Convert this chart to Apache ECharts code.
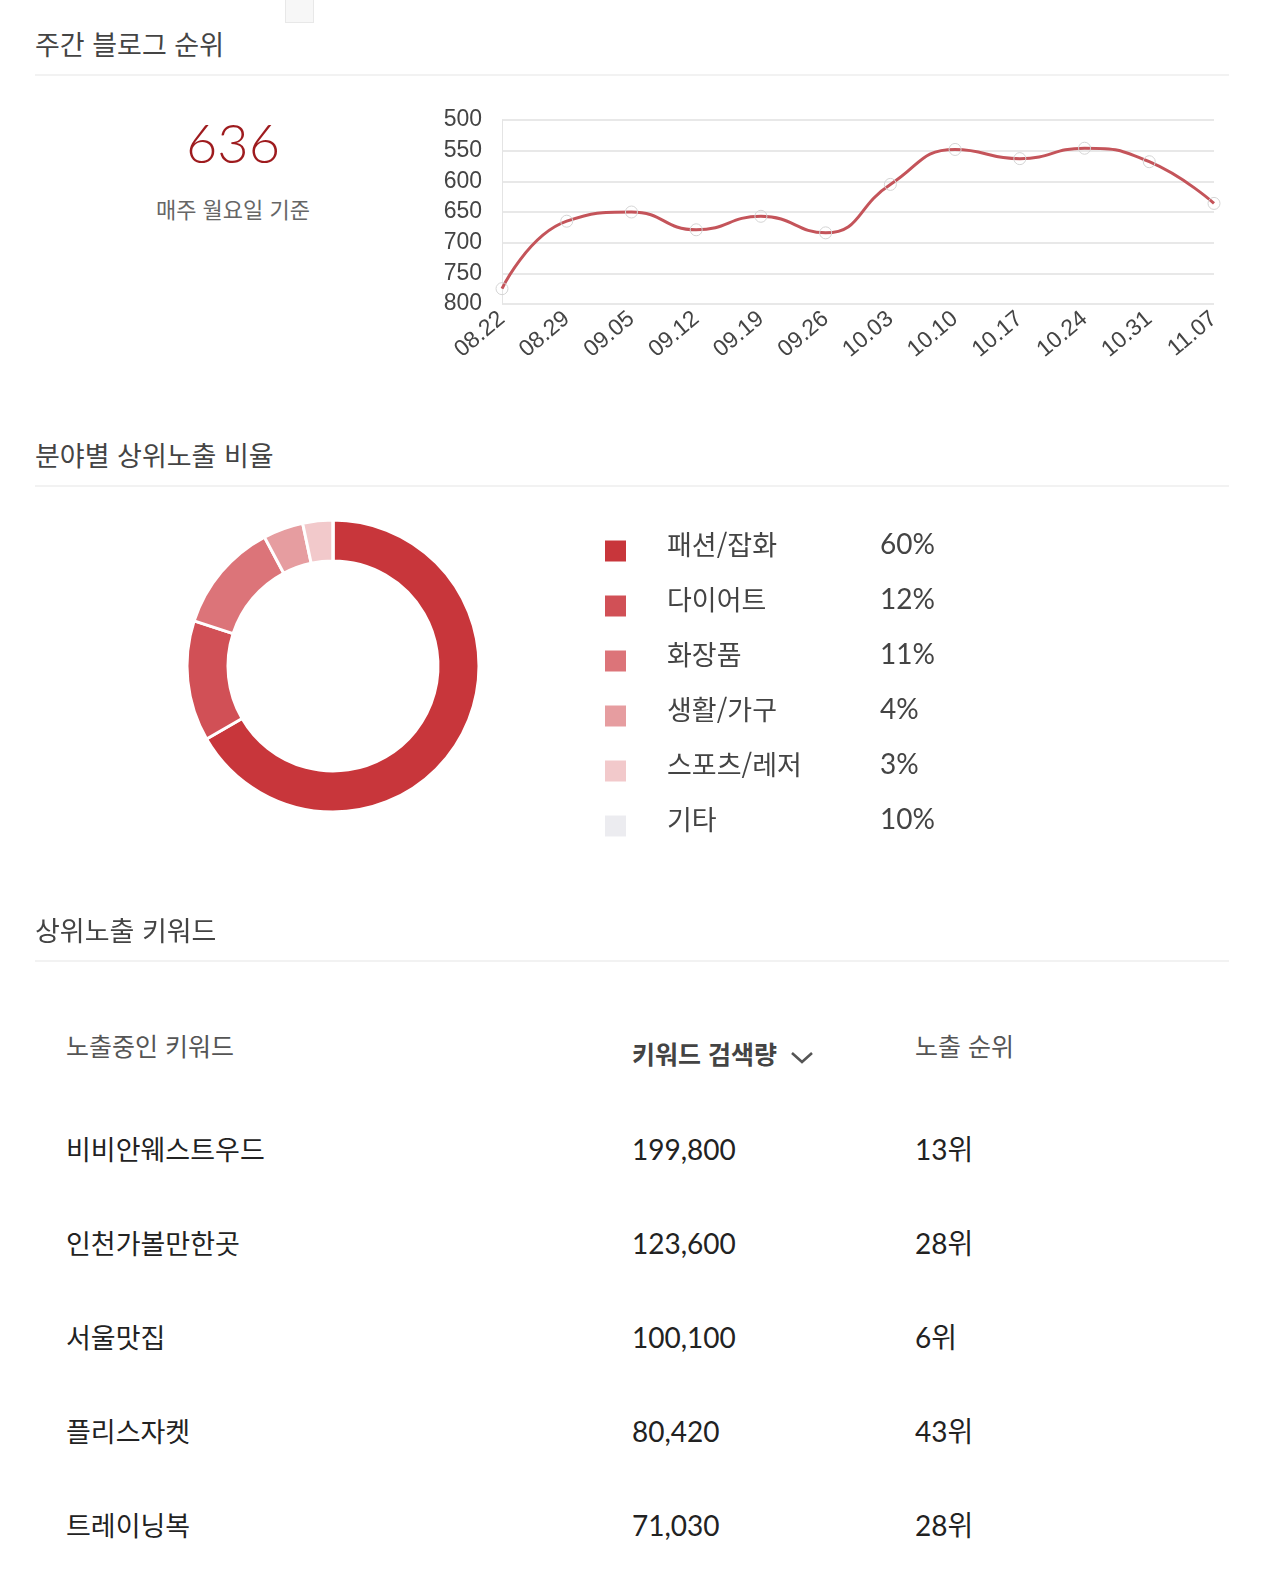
<!DOCTYPE html>
<html lang="ko">
<head>
<meta charset="utf-8">
<title>블로그 통계</title>
<script src="https://cdn.jsdelivr.net/npm/echarts@6/dist/echarts.min.js"></script>
<style>
  html, body { margin: 0; padding: 0; background: #fff; }
  #page { position: relative; width: 1280px; height: 1584px; overflow: hidden;
          font-family: 'Noto Sans CJK KR', 'Noto Sans', sans-serif; color: #444; }
  .abs { position: absolute; white-space: nowrap; line-height: 1; }
  .tab { left: 285px; top: 0; width: 27px; height: 22px; background: #f7f7f7;
         border: 1px solid #e8e8e8; border-top: none; }
  .head { left: 35px; font-size: 27px; color: #444; }
  .rule { left: 35px; width: 1194px; height: 2px; background: #f2f2f2; }
  .big { left: 133px; width: 200px; text-align: center; font-family: Lato, sans-serif;
         font-weight: 300; font-size: 54px; color: #9e1b1e; }
  .sub { left: 113px; width: 240px; text-align: center; font-size: 22px; color: #666; }
  .th { font-size: 25px; color: #555; }
  .th.sorted { font-weight: 700; color: #444; }
  .td { font-size: 27px; color: #222; }
  .num { font-family: Lato, 'Noto Sans CJK KR', sans-serif; font-size: 28px; }
  #rankChart { position: absolute; left: 0; top: 90px; width: 1280px; height: 310px; }
  #shareChart { position: absolute; left: 0; top: 495px; width: 1280px; height: 420px; }
</style>
</head>
<body>
<div id="page">
  <div class="abs tab"></div>
  <div class="abs head" style="top:30px">주간 블로그 순위</div>
  <div class="abs rule" style="top:74px"></div>
  <div class="abs big" id="currentRank" style="top:116px"></div>
  <div class="abs sub" style="top:197px">매주 월요일 기준</div>
  <div id="rankChart"></div>

  <div class="abs head" style="top:441px">분야별 상위노출 비율</div>
  <div class="abs rule" style="top:485px"></div>
  <div id="shareChart"></div>

  <div class="abs head" style="top:916px">상위노출 키워드</div>
  <div class="abs rule" style="top:960px"></div>
  <div id="keywordTable"></div>
</div>

<script>
// weekly blog rank (lower is better, axis is inverted)
const weeks = ['08.22', '08.29', '09.05', '09.12', '09.19', '09.26', '10.03', '10.10', '10.17', '10.24', '10.31', '11.07'];
const ranks = [775, 665, 650, 679, 657, 684, 605, 548, 563, 546, 568, 636];
const rankTicks = [500, 550, 600, 650, 700, 750, 800];

// share of top exposure by field
const shareNames = ['패션/잡화', '다이어트', '화장품', '생활/가구', '스포츠/레저', '기타'];
const sharePct = [60, 12, 11, 4, 3, 10];
// the ring in the reference leaves out 기타
const ringValues = [60, 12, 11, 4, 3, 0];
const shareColors = ['#c8363b', '#d15056', '#dc7479', '#e69da0', '#f2c9cb', '#ececf0'];

// keywords table
const tableHeads = ['노출중인 키워드', '키워드 검색량', '노출 순위'];
const keywords = ['비비안웨스트우드', '인천가볼만한곳', '서울맛집', '플리스자켓', '트레이닝복'];
const searchVolumes = [199800, 123600, 100100, 80420, 71030];
const keywordRanks = [13, 28, 6, 43, 28];

document.getElementById('currentRank').textContent = ranks[ranks.length - 1];

// Build the table.
const colX = [66, 632, 915];
const table = document.getElementById('keywordTable');
tableHeads.forEach((h, i) => {
  const el = document.createElement('div');
  el.className = 'abs th' + (i === 1 ? ' sorted' : '');
  el.style.left = colX[i] + 'px';
  el.style.top = (i === 1 ? 1041 : 1033) + 'px';
  el.textContent = h;
  if (i === 1) {
    el.insertAdjacentHTML('beforeend',
      ' <svg width="24" height="15" viewBox="0 0 24 15" style="vertical-align:-1px;margin-left:6px">' +
      '<polyline points="2,3 12,12 22,3" fill="none" stroke="#555" stroke-width="2.6"/></svg>');
  }
  table.appendChild(el);
});
keywords.forEach((k, r) => {
  const top = 1135 + r * 94;
  const cells = [k, searchVolumes[r].toLocaleString('en-US'), keywordRanks[r] + '위'];
  cells.forEach((c, i) => {
    const el = document.createElement('div');
    el.className = 'abs td' + (i > 0 ? ' num' : '');
    el.style.left = colX[i] + 'px';
    el.style.top = top + 'px';
    el.textContent = c;
    table.appendChild(el);
  });
});

// Rank line chart.
const rankChart = echarts.init(document.getElementById('rankChart'));
rankChart.setOption({
  animation: false,
  grid: { left: 502, top: 30, width: 712, height: 184 },
  xAxis: {
    type: 'category',
    data: weeks,
    boundaryGap: false,
    axisLine: { show: false },
    axisTick: { show: false },
    axisLabel: {
      rotate: 40, margin: 12, fontSize: 23, color: '#444',
      fontFamily: 'Liberation Sans, Arial, sans-serif'
    }
  },
  yAxis: {
    type: 'value',
    inverse: true,
    min: rankTicks[0],
    max: rankTicks[rankTicks.length - 1],
    interval: 50,
    axisLine: { show: true, lineStyle: { color: '#e4e4e4' } },
    axisTick: { show: false },
    axisLabel: {
      margin: 20, fontSize: 23, color: '#444',
      fontFamily: 'Liberation Sans, Arial, sans-serif'
    },
    splitLine: { lineStyle: { color: '#e0e0e0', width: 1.5 } }
  },
  series: [{
    type: 'line',
    data: ranks,
    smooth: 0.5,
    symbol: 'circle',
    symbolSize: 12,
    itemStyle: { color: 'rgba(255,255,255,0)', borderColor: '#d4d4d4', borderWidth: 1 },
    lineStyle: { color: '#c4545a', width: 3 },
    z: 3
  }]
});

// Share donut with legend.
const shareChart = echarts.init(document.getElementById('shareChart'));
shareChart.setOption({
  animation: false,
  color: shareColors,
  legend: {
    orient: 'vertical',
    left: 598,
    top: 31,
    itemWidth: 23,
    itemHeight: 23,
    itemGap: 15,
    icon: 'rect',
    selectedMode: false,
    data: shareNames,
    formatter: (name) => {
      const p = sharePct[shareNames.indexOf(name)];
      return '{n|' + name + '}{p|' + p + '%}';
    },
    textStyle: {
      rich: {
        n: { width: 213, lineHeight: 26, padding: [0, 0, 12, 35], fontSize: 27, color: '#444',
             fontFamily: 'Noto Sans CJK KR' },
        p: { fontSize: 28, lineHeight: 26, color: '#444', padding: [0, 0, 12, 0],
             fontFamily: 'Lato, sans-serif' }
      }
    }
  },
  series: [{
    type: 'pie',
    center: [333, 171],
    radius: [105, 146],
    startAngle: 90,
    label: { show: false },
    labelLine: { show: false },
    emphasis: { disabled: true },
    itemStyle: { borderColor: '#fff', borderWidth: 3 },
    data: shareNames.map((n, i) => ({ name: n, value: ringValues[i] }))
  }]
});
</script>
</body>
</html>
